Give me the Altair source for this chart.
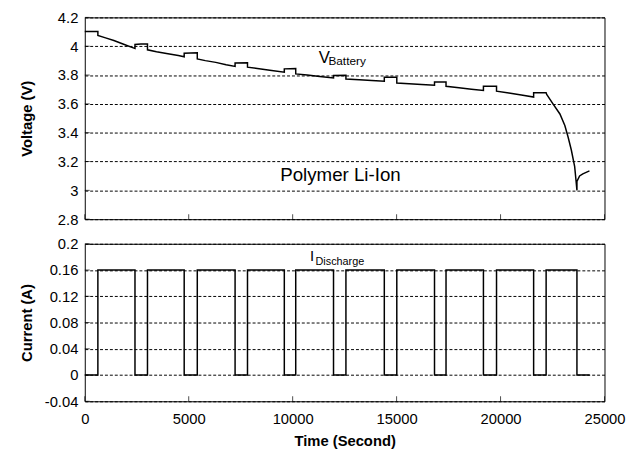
import altair as alt
import pandas as pd

# ---- data ----
time_s = [0, 630, 630, 1000, 1400, 1900, 2300, 2415, 2415, 2700, 3016, 3016, 3450, 4000, 4500, 4782,
          4782, 5412, 5412, 5800, 6300, 6800, 7230, 7230, 7827, 7827, 8300, 8900, 9598, 9598, 10147,
          10147, 10700, 11300, 11965, 11965, 12562, 12562, 13200, 13800, 14408, 14408, 15009, 15009,
          15600, 16200, 16823, 16823, 17377, 17377, 18000, 18600, 19176, 19176, 19806, 19806, 20400,
          21000, 21591, 21591, 22192, 22220, 22538, 22855, 23092, 23248, 23404, 23565, 23641, 23674,
          23674, 23802, 23958, 24276]
voltage_v = [4.102, 4.102, 4.075, 4.058, 4.040, 4.012, 3.990, 3.984, 4.012, 4.016, 4.016, 3.975, 3.962,
             3.948, 3.935, 3.927, 3.952, 3.954, 3.912, 3.900, 3.888, 3.872, 3.860, 3.884, 3.885, 3.855,
             3.846, 3.834, 3.820, 3.843, 3.845, 3.808, 3.800, 3.790, 3.780, 3.797, 3.798, 3.772, 3.768,
             3.762, 3.757, 3.784, 3.784, 3.745, 3.740, 3.734, 3.729, 3.752, 3.752, 3.722, 3.712, 3.702,
             3.693, 3.722, 3.722, 3.688, 3.675, 3.662, 3.647, 3.677, 3.677, 3.665, 3.597, 3.530, 3.450,
             3.370, 3.280, 3.165, 3.051, 3.000, 3.062, 3.100, 3.115, 3.135]

pulse_on = [630, 3016, 5412, 7827, 10147, 12562, 15009, 17377, 19806, 22192]
pulse_off = [2415, 4782, 7230, 9598, 11965, 14408, 16823, 19176, 21591, 23674]
current_level = 0.16
current_end = 24290

x_ticks = [0, 5000, 10000, 15000, 20000, 25000]
v_ticks = [2.8, 3, 3.2, 3.4, 3.6, 3.8, 4, 4.2]
i_ticks = [-0.04, 0, 0.04, 0.08, 0.12, 0.16, 0.2]

# ---- tables ----
vdf = pd.DataFrame({"t": time_s, "v": voltage_v, "k": list(range(len(time_s)))})
ct, cv = [0], [0.0]
for a, b in zip(pulse_on, pulse_off):
    ct += [a, a, b, b]
    cv += [0.0, current_level, current_level, 0.0]
ct.append(current_end)
cv.append(0.0)
cdf = pd.DataFrame({"t": ct, "c": cv, "k": list(range(len(ct)))})

W, H1, H2 = 528, 205, 160
FONT = "Liberation Sans"

xs = alt.Scale(domain=[0, 25000], nice=False, zero=False)
vs = alt.Scale(domain=[2.8, 4.2], nice=False, zero=False)
cs = alt.Scale(domain=[-0.04, 0.2], nice=False, zero=False)

yax = dict(grid=True, ticks=False, domain=False, labelPadding=7,
           labelExpr="'' + datum.value", labelFontSize=15, titleFontSize=15,
           titleFontWeight="bold", titleX=-51)
vax = alt.Axis(values=v_ticks, title="Voltage (V)", **yax)
cax = alt.Axis(values=i_ticks, title="Current (A)", **yax)
xax = alt.Axis(values=x_ticks, title="Time (Second)", grid=False, ticks=False, domain=False,
               labelFlush=False, labelPadding=11, titlePadding=7, labelExpr="'' + datum.value",
               labelFontSize=15, titleFontSize=15, titleFontWeight="bold")

# ---- top panel ----
X1 = alt.X("t:Q", scale=xs, axis=None)
Y1 = alt.Y("v:Q", scale=vs, axis=vax)

vline = alt.Chart(vdf).mark_line(color="black", strokeWidth=1.5).encode(x=X1, y=Y1, order="k:Q")
top_xt = alt.Chart(pd.DataFrame({"t": x_ticks})).mark_tick(color="black", size=5, thickness=1).encode(
    x=X1, y=alt.value(H1 - 2.5))
top_yt = alt.Chart(pd.DataFrame({"v": v_ticks})).mark_tick(color="black", size=5, thickness=1).encode(
    y=Y1, x=alt.value(2.5))
vlab = alt.Chart(pd.DataFrame({"t": [11250], "v": [3.884], "s": ["V"]})).mark_text(
    font=FONT, fontSize=17, align="left", baseline="alphabetic", color="black").encode(
    x=X1, y=Y1, text="s:N")
vsub = alt.Chart(pd.DataFrame({"t": [11720], "v": [3.872], "s": ["Battery"]})).mark_text(
    font=FONT, fontSize=12, align="left", baseline="alphabetic", color="black").encode(
    x=X1, y=Y1, text="s:N")
poly = alt.Chart(pd.DataFrame({"t": [12300], "v": [3.067], "s": ["Polymer Li-Ion"]})).mark_text(
    font=FONT, fontSize=19, align="center", baseline="alphabetic", color="black").encode(
    x=X1, y=Y1, text="s:N")

top = alt.layer(vline, top_xt, top_yt, vlab, vsub, poly).properties(width=W, height=H1)

# ---- bottom panel ----
X2 = alt.X("t:Q", scale=xs, axis=xax)
Y2 = alt.Y("c:Q", scale=cs, axis=cax)

cline = alt.Chart(cdf).mark_line(color="black", strokeWidth=1.5).encode(x=X2, y=Y2, order="k:Q")
bot_xt = alt.Chart(pd.DataFrame({"t": x_ticks})).mark_tick(color="black", size=5, thickness=1).encode(
    x=X2, y=alt.value(H2 - 2.5))
bot_yt = alt.Chart(pd.DataFrame({"c": i_ticks})).mark_tick(color="black", size=5, thickness=1).encode(
    y=Y2, x=alt.value(2.5))
ilab = alt.Chart(pd.DataFrame({"t": [10830], "c": [0.1745], "s": ["I"]})).mark_text(
    font=FONT, fontSize=15, align="left", baseline="alphabetic", color="black").encode(
    x=X2, y=Y2, text="s:N")
isub = alt.Chart(pd.DataFrame({"t": [11100], "c": [0.168], "s": ["Discharge"]})).mark_text(
    font=FONT, fontSize=11, align="left", baseline="alphabetic", color="black").encode(
    x=X2, y=Y2, text="s:N")

bottom = alt.layer(cline, bot_xt, bot_yt, ilab, isub).properties(width=W, height=H2)

chart = alt.vconcat(top, bottom, spacing=25, bounds="flush").properties(
    padding={"left": 11, "top": -2, "right": 10, "bottom": 0},
    background="white",
).configure_view(stroke="black", strokeWidth=1).configure_axis(
    gridColor="black", gridDash=[3, 2], gridWidth=1, gridOpacity=1,
    labelFont=FONT, titleFont=FONT, labelColor="black", titleColor="black",
)

chart.save("out.html", embed_options={"renderer": "svg", "actions": False})
